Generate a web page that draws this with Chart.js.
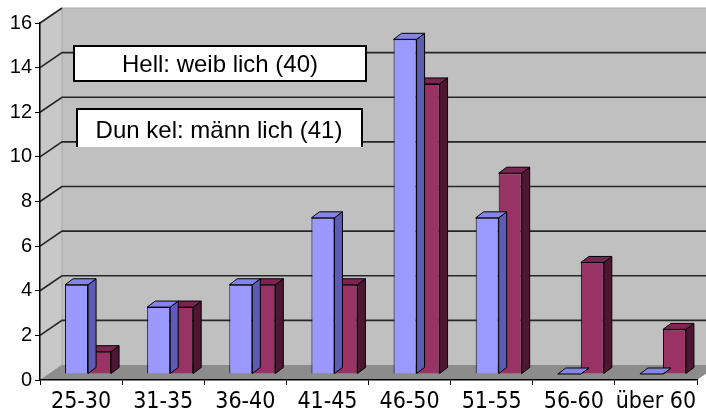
<!DOCTYPE html>
<html>
<head>
<meta charset="utf-8">
<script src="https://cdn.jsdelivr.net/npm/chart.js@4/dist/chart.umd.min.js"></script>
<style>
  body { margin: 0; background: #fff; }
  #wrap { width: 706px; height: 414px; }
</style>
</head>
<body>
<div id="wrap"><canvas id="chart" width="706" height="414"></canvas></div>
<script>
// Altersgruppen
const categories = ['25-30', '31-35', '36-40', '41-45', '46-50', '51-55', '56-60', 'über 60'];
const weiblich = [4, 3, 4, 7, 15, 7, 0, 0];
const maennlich = [1, 3, 4, 4, 13, 9, 5, 2];
const yTicks = [0, 2, 4, 6, 8, 10, 12, 14, 16];
const boxLabels = ['Hell: weib lich (40)', 'Dun kel: männ lich (41)'];

// 3d geometry
const WALL_DX = 22, WALL_DY = 15;   // depth of the floor / side wall
const BAR_SHIFT_X = 7, BAR_SHIFT_Y = -6; // bars sit a bit behind the front edge
const BAR_DX = 8, BAR_DY = 6;       // depth of a single bar

const faces = [
  { front: '#9999ff', side: '#5c5cb4', top: '#8585e6' },
  { front: '#993366', side: '#4d1632', top: '#7d2452' }
];

const wallPlugin = {
  id: 'wall',
  beforeDraw(chart) {
    const ctx = chart.ctx;
    const xs = chart.scales.x, ys = chart.scales.y;
    const L = xs.left, R = xs.right;
    const y0 = ys.getPixelForValue(0), yTop = ys.getPixelForValue(16);
    ctx.save();
    // back wall
    ctx.fillStyle = '#c0c0c0';
    ctx.fillRect(L + WALL_DX, yTop - WALL_DY, chart.width, y0 - yTop);
    // left side wall
    ctx.fillStyle = '#c8c8c8';
    ctx.beginPath();
    ctx.moveTo(L, y0); ctx.lineTo(L, yTop);
    ctx.lineTo(L + WALL_DX, yTop - WALL_DY); ctx.lineTo(L + WALL_DX, y0 - WALL_DY);
    ctx.closePath(); ctx.fill();
    ctx.strokeStyle = '#a8a8a8'; ctx.lineWidth = 1;
    ctx.stroke();
    // floor
    ctx.fillStyle = '#8c8c8c';
    ctx.beginPath();
    ctx.moveTo(L, y0); ctx.lineTo(R, y0);
    ctx.lineTo(R + WALL_DX, y0 - WALL_DY); ctx.lineTo(L + WALL_DX, y0 - WALL_DY);
    ctx.closePath(); ctx.fill();
    // top edge of the wall
    ctx.strokeStyle = '#a8a8a8';
    ctx.beginPath();
    ctx.moveTo(L + WALL_DX, yTop - WALL_DY); ctx.lineTo(chart.width, yTop - WALL_DY);
    ctx.stroke();
    // gridlines on side wall and back wall
    ctx.strokeStyle = '#262626'; ctx.lineWidth = 1.6;
    yTicks.forEach(v => {
      if (v === 0) return;
      const py = ys.getPixelForValue(v);
      ctx.beginPath();
      ctx.moveTo(L, py);
      ctx.lineTo(L + WALL_DX, py - WALL_DY);
      if (v < 16) ctx.lineTo(chart.width, py - WALL_DY);
      ctx.stroke();
    });
    ctx.restore();
  },
  beforeDatasetsDraw(chart) {
    chart.ctx.save();
    chart.ctx.translate(BAR_SHIFT_X, BAR_SHIFT_Y);
  },
  afterDatasetDraw(chart, args) {
    const ctx = chart.ctx;
    const f = faces[args.index];
    ctx.lineWidth = 1; ctx.strokeStyle = '#000';
    args.meta.data.forEach(bar => {
      const p = bar.getProps(['x', 'y', 'base', 'width'], true);
      const l = p.x - p.width / 2, r = p.x + p.width / 2;
      // side
      ctx.fillStyle = f.side;
      ctx.beginPath();
      ctx.moveTo(r, p.y); ctx.lineTo(r + BAR_DX, p.y - BAR_DY);
      ctx.lineTo(r + BAR_DX, p.base - BAR_DY); ctx.lineTo(r, p.base);
      ctx.closePath(); ctx.fill(); ctx.stroke();
      // top
      ctx.fillStyle = f.top;
      ctx.beginPath();
      ctx.moveTo(l, p.y); ctx.lineTo(l + BAR_DX, p.y - BAR_DY);
      ctx.lineTo(r + BAR_DX, p.y - BAR_DY); ctx.lineTo(r, p.y);
      ctx.closePath(); ctx.fill(); ctx.stroke();
    });
  },
  afterDatasetsDraw(chart) {
    chart.ctx.restore();
  },
  afterDraw(chart) {
    const ctx = chart.ctx;
    ctx.save();
    ctx.font = '24px "Liberation Sans", Arial, sans-serif';
    ctx.textAlign = 'center';
    ctx.textBaseline = 'middle';
    // box 1
    ctx.fillStyle = '#fff';
    ctx.fillRect(74, 46, 292, 35);
    ctx.strokeStyle = '#000'; ctx.lineWidth = 2;
    ctx.strokeRect(74, 46, 292, 35);
    ctx.fillStyle = '#000';
    ctx.fillText(boxLabels[0], 220, 65);
    // box 2 (no bottom edge)
    ctx.fillStyle = '#fff';
    ctx.fillRect(77, 109, 285, 38);
    ctx.beginPath();
    ctx.moveTo(77, 147); ctx.lineTo(77, 109); ctx.lineTo(362, 109); ctx.lineTo(362, 147);
    ctx.stroke();
    ctx.fillStyle = '#000';
    ctx.fillText(boxLabels[1], 219, 131);
    ctx.restore();
  }
};

new Chart(document.getElementById('chart'), {
  type: 'bar',
  data: {
    labels: categories,
    datasets: [
      { label: 'weiblich', data: weiblich, backgroundColor: faces[0].front, borderColor: '#000', borderWidth: 1,
        categoryPercentage: 0.56, barPercentage: 1 },
      { label: 'männlich', data: maennlich, backgroundColor: faces[1].front, borderColor: '#000', borderWidth: 1,
        categoryPercentage: 0.56, barPercentage: 1 }
    ]
  },
  options: {
    responsive: false,
    animation: false,
    devicePixelRatio: 1,
    layout: { padding: { top: 23, right: 9, left: 0, bottom: 0 } },
    plugins: { legend: { display: false }, tooltip: { enabled: false } },
    scales: {
      x: {
        afterFit: s => { s.height = 34; },
        grid: { display: true, drawOnChartArea: false, offset: true, tickLength: 5, color: '#000', lineWidth: 1 },
        border: { color: '#000', width: 1.5 },
        ticks: { color: '#000', padding: 3, autoSkip: false, maxRotation: 0, minRotation: 0,
                 font: { family: '"Liberation Sans Narrow", "DejaVu Sans Condensed", "Liberation Sans", sans-serif', size: 23 } }
      },
      y: {
        min: 0, max: 16,
        afterFit: s => { s.width = 40; },
        afterBuildTicks: s => { s.ticks = yTicks.map(v => ({ value: v })); },
        grid: { display: true, drawOnChartArea: false, tickLength: 5, color: '#000', lineWidth: 1 },
        border: { color: '#000', width: 1.5 },
        ticks: { color: '#000', padding: 3, font: { family: '"Liberation Sans", Arial, sans-serif', size: 20 } }
      }
    }
  },
  plugins: [wallPlugin]
});
</script>
</body>
</html>
